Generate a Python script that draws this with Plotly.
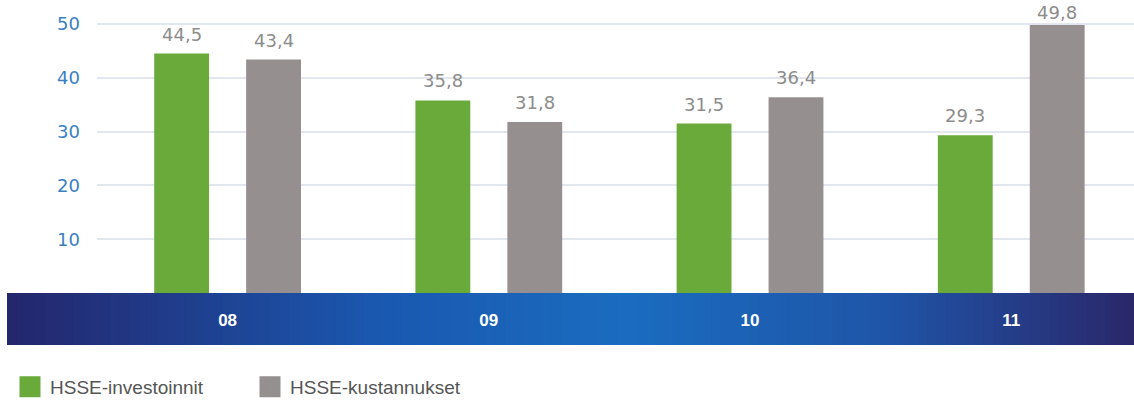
import plotly.graph_objects as go

categories = ["08", "09", "10", "11"]
investoinnit = [44.5, 35.8, 31.5, 29.3]
kustannukset = [43.4, 31.8, 36.4, 49.8]
ytick_vals = [10, 20, 30, 40, 50]
series_names = ["HSSE-investoinnit", "HSSE-kustannukset"]
series_colors = ["#6aaa3a", "#958f8f"]

xpos = list(range(len(categories)))
bar_w = 0.21
offsets = [-0.281, 0.071]
y_max = 54.46
plot_h = 293
px_per_unit = plot_h / y_max
label_box_h = 25

fig = go.Figure()
annotations = []
for vals, name, color, off in zip([investoinnit, kustannukset], series_names,
                                  series_colors, offsets):
    fig.add_trace(go.Bar(
        x=xpos, y=vals, name=name, showlegend=False,
        marker=dict(color=color, line=dict(width=0)),
        width=bar_w, offset=off, hoverinfo="y",
    ))
    for xi, v in zip(xpos, vals):
        room = (y_max - v) * px_per_unit - label_box_h
        annotations.append(dict(
            x=xi + off + bar_w / 2, y=v, xref="x", yref="y",
            text=("%.1f" % v).replace(".", ","), showarrow=False,
            yanchor="bottom", yshift=max(0, min(7, room)),
            font=dict(family="DejaVu Sans", size=18, color="#8c8c8c"),
        ))

# legend entries with large square swatches
for name, color in zip(series_names, series_colors):
    fig.add_trace(go.Scatter(
        x=[None], y=[None], mode="markers", name=name,
        marker=dict(symbol="square", size=16, color=color,
                    line=dict(color=color, width=5)),
        hoverinfo="skip",
    ))

# gradient band behind the category labels
def lerp(c1, c2, t):
    return tuple(round(a + (b - a) * t) for a, b in zip(c1, c2))

stops = [(0.0, (0x24, 0x26, 0x6c)), (0.33, (0x1a, 0x58, 0xb0)),
         (0.55, (0x1a, 0x6c, 0xc0)), (0.78, (0x1f, 0x55, 0xa8)),
         (1.0, (0x2a, 0x27, 0x6a))]
band_left, band_right = -0.0868, 1.0
n = 120
shapes = []
for i in range(n):
    t = (i + 0.5) / n
    for j in range(len(stops) - 1):
        if stops[j][0] <= t <= stops[j + 1][0]:
            tt = (t - stops[j][0]) / (stops[j + 1][0] - stops[j][0])
            c = lerp(stops[j][1], stops[j + 1][1], tt)
            break
    x0 = band_left + (band_right - band_left) * i / n
    x1 = band_left + (band_right - band_left) * (i + 1) / n + 0.001
    shapes.append(dict(type="rect", xref="paper", yref="paper",
                       x0=x0, x1=x1, y0=-52 / plot_h, y1=0.0,
                       fillcolor="rgb(%d,%d,%d)" % c, line=dict(width=0),
                       layer="below"))

fig.update_layout(
    width=1134, height=411,
    margin=dict(l=97, r=0, t=0, b=411 - plot_h),
    paper_bgcolor="white", plot_bgcolor="white",
    showlegend=True,
    shapes=shapes,
    annotations=annotations,
    font=dict(family="Liberation Sans"),
    legend=dict(orientation="h", x=-0.0839, xanchor="left", y=-94 / plot_h,
                yanchor="middle", font=dict(size=19, color="#555555"),
                entrywidth=195, entrywidthmode="pixels", itemsizing="trace",
                bgcolor="rgba(0,0,0,0)"),
    xaxis=dict(range=[-0.5, 3.47], tickvals=xpos, ticktext=categories,
               showgrid=False, zeroline=False, showline=False, ticks="",
               tickfont=dict(color="white", size=17, family="Liberation Sans",
                             weight="bold"),
               ticklabelstandoff=15, fixedrange=True),
    yaxis=dict(range=[0, y_max], tickvals=ytick_vals, showgrid=True,
               gridcolor="#e2e6ef", gridwidth=2, zeroline=False,
               showline=False, ticks="",
               tickfont=dict(color="#3a7fc1", size=18, family="DejaVu Sans"),
               ticklabelstandoff=16),
)

fig.write_html("out.html", config={"displayModeBar": False},
               post_script="document.body.style.margin='0px';")
